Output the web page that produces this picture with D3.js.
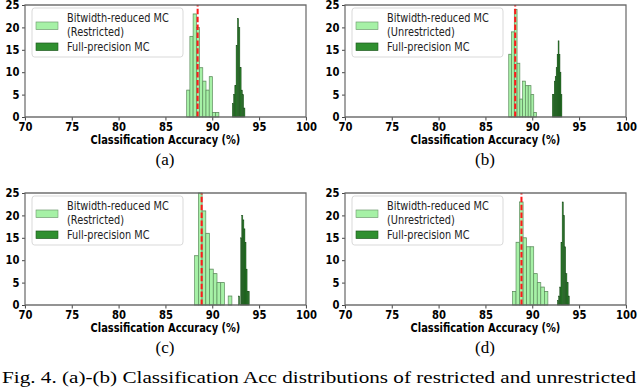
<!DOCTYPE html>
<html>
<head>
<meta charset="utf-8">
<script src="https://cdn.jsdelivr.net/npm/d3@7"></script>
<style>
  body { margin: 0; background: #fff; }
  svg { display: block; }
</style>
</head>
<body>
<svg id="chart"></svg>
<script>
const xTicks = [70, 75, 80, 85, 90, 95, 100];
const yTicks = [0, 5, 10, 15, 20, 25];
const panelLabels = ["(a)", "(b)", "(c)", "(d)"];
const reducedNames = ["(Restricted)", "(Unrestricted)", "(Restricted)", "(Unrestricted)"];
const caption = "Fig. 4.   (a)-(b) Classification Acc distributions of restricted and unrestricted";

// bitwidth-reduced MC histograms: first bin edge, bin width, counts per bin
const reducedStart = [87.26, 87.48, 88.11, 87.88];
const reducedBin = [0.344, 0.297, 0.398, 0.378];
const reducedA = [6, 18, 23, 20, 11, 8, 6, 9, 1, 1];
const reducedB = [14, 19, 24, 12, 4, 8, 7, 7, 5, 1];
const reducedC = [11, 25, 21, 16, 8, 7, 5, 5, 0, 2];
const reducedD = [3, 14, 23, 15, 13, 13, 7, 5, 4, 3];

// full-precision MC histograms
const fullStart = [92.13, 92.13, 92.8, 92.67];
const fullBin = [0.135, 0.103, 0.114, 0.128];
const fullA = [3, 5, 7, 16, 22, 20, 11, 6, 5, 2];
const fullB = [5, 5, 8, 9, 11, 14, 17, 14, 10, 5];
const fullC = [2, 0, 15, 20, 19, 17, 14, 8, 3, 3];
const fullD = [1, 2, 4, 14, 23, 20, 13, 7, 5, 2];

// dashed red line (mean of reduced MC)
const meanLine = [88.43, 88.17, 88.86, 88.84];

const reducedCounts = [reducedA, reducedB, reducedC, reducedD];
const fullCounts = [fullA, fullB, fullC, fullD];

const width = 640;
const height = 387;
const sx = 0.85; // the figure is squeezed horizontally
const panelPos = [[25, 5], [345, 5], [25, 193], [345, 193]];
const pw = 281 / sx;
const ph = 112;

const svg = d3.select("#chart")
    .attr("width", width)
    .attr("height", height);

const plots = svg.append("g").attr("transform", `scale(${sx},1)`);

function toBins(start, step, counts) {
    return counts.map((c, i) => ({ x0: start + i * step, x1: start + (i + 1) * step, n: c }));
}

panelPos.forEach((p, i) => {
    const left = p[0] / sx;
    const top = p[1];

    const x = d3.scaleLinear().domain([70, 100]).range([left, left + pw]);
    const y = d3.scaleLinear().domain([0, 25]).range([top + ph, top]);

    const g = plots.append("g");

    g.append("g")
        .selectAll("rect")
        .data(toBins(reducedStart[i], reducedBin[i], reducedCounts[i]).filter(d => d.n > 0))
        .join("rect")
        .attr("x", d => x(d.x0))
        .attr("width", d => x(d.x1) - x(d.x0))
        .attr("y", d => y(d.n))
        .attr("height", d => y(0) - y(d.n))
        .attr("fill", "#a6f1a6")
        .attr("stroke", "#5c8a5c")
        .attr("stroke-width", 0.8);

    g.append("g")
        .selectAll("rect")
        .data(toBins(fullStart[i], fullBin[i], fullCounts[i]).filter(d => d.n > 0))
        .join("rect")
        .attr("x", d => x(d.x0))
        .attr("width", d => x(d.x1) - x(d.x0))
        .attr("y", d => y(d.n))
        .attr("height", d => y(0) - y(d.n))
        .attr("fill", "#2a7f2a")
        .attr("stroke", "#144414")
        .attr("stroke-width", 0.5);

    g.append("line")
        .attr("x1", x(meanLine[i])).attr("x2", x(meanLine[i]))
        .attr("y1", y(0)).attr("y2", y(25))
        .attr("stroke", "#ff1a1a")
        .attr("stroke-width", 2.4)
        .attr("stroke-dasharray", "5.5,2.4");

    const xAxis = g.append("g")
        .attr("transform", `translate(0,${top + ph})`)
        .call(d3.axisBottom(x).tickValues(xTicks).tickSize(3.5).tickPadding(2.5));

    const yAxis = g.append("g")
        .attr("transform", `translate(${left},0)`)
        .call(d3.axisLeft(y).tickValues(yTicks).tickSize(3.5).tickPadding(3));

    [xAxis, yAxis].forEach(a => {
        a.select(".domain").remove();
        a.selectAll(".tick line").attr("stroke", "#333");
        a.selectAll("text")
            .attr("fill", "#000")
            .attr("font-family", "DejaVu Sans")
            .attr("font-weight", "bold")
            .attr("font-size", 11.8);
    });

    g.append("rect")
        .attr("x", left).attr("y", top)
        .attr("width", pw).attr("height", ph)
        .attr("fill", "none")
        .attr("stroke", "#666")
        .attr("stroke-width", 1.4);

    g.append("text")
        .attr("x", left + pw / 2)
        .attr("y", top + ph + 27)
        .attr("text-anchor", "middle")
        .attr("font-family", "DejaVu Sans")
        .attr("font-weight", "bold")
        .attr("font-size", 11.6)
        .text("Classification Accuracy (%)");

    // legend
    const lg = g.append("g");
    lg.append("rect")
        .attr("x", left + 7 / sx).attr("y", top + 3)
        .attr("width", 151 / sx).attr("height", 49)
        .attr("rx", 3)
        .attr("fill", "#fff").attr("fill-opacity", 0.8)
        .attr("stroke", "#d6d6d6");
    lg.append("rect")
        .attr("x", left + 11 / sx).attr("y", top + 17)
        .attr("width", 22 / sx).attr("height", 7.5)
        .attr("fill", "#a6f1a6").attr("stroke", "#6f9a6f").attr("stroke-width", 0.7);
    lg.append("rect")
        .attr("x", left + 11 / sx).attr("y", top + 38)
        .attr("width", 22 / sx).attr("height", 7.5)
        .attr("fill", "#2f8f2f").attr("stroke", "#1d5a1d").attr("stroke-width", 0.7);
    [["Bitwidth-reduced MC", 13], [reducedNames[i], 26.5], ["Full-precision MC", 42]].forEach(t => {
        lg.append("text")
            .attr("x", left + 42 / sx)
            .attr("y", top + t[1] + 4.2)
            .attr("font-family", "DejaVu Sans")
            .attr("font-size", 11.5)
            .attr("fill", "#222")
            .text(t[0]);
    });

    svg.append("text")
        .attr("x", p[0] + 140)
        .attr("y", top + 160)
        .attr("text-anchor", "middle")
        .attr("font-family", "Liberation Serif")
        .attr("font-size", 17)
        .text(panelLabels[i]);
});

svg.append("text")
    .attr("x", 2)
    .attr("y", 383)
    .attr("font-family", "Liberation Serif")
    .attr("font-size", 17)
    .attr("textLength", 634)
    .attr("lengthAdjust", "spacingAndGlyphs")
    .text(caption);
</script>
</body>
</html>
